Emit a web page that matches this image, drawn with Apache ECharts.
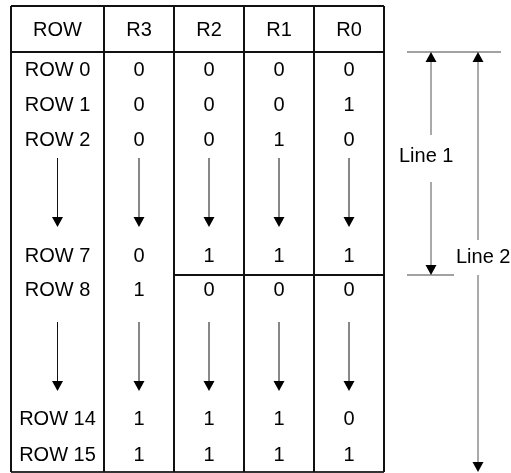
<!DOCTYPE html>
<html>
<head>
<meta charset="utf-8">
<script src="https://cdn.jsdelivr.net/npm/echarts@6/dist/echarts.min.js"></script>
<style>html,body{margin:0;padding:0;background:#fff}#c{width:511px;height:473px}</style>
</head>
<body>
<div id="c"></div>
<script>
// ---- data ----
const columns = ['ROW', 'R3', 'R2', 'R1', 'R0'];
const rowLabels = ['ROW 0', 'ROW 1', 'ROW 2', 'ROW 7', 'ROW 8', 'ROW 14', 'ROW 15'];
const bitsR3 = [0, 0, 0, 0, 1, 1, 1];
const bitsR2 = [0, 0, 0, 1, 0, 1, 1];
const bitsR1 = [0, 0, 1, 1, 0, 1, 1];
const bitsR0 = [0, 1, 0, 1, 0, 0, 1];
const spanLabels = ['Line 1', 'Line 2'];

// ---- layout (pixel units on hidden value axes) ----
const L = {
  colEdges: [11, 104, 174, 244, 314, 384],
  headerTop: 6, headerBottom: 52, tableBottom: 472,
  rowCenters: [70, 105, 140, 256, 290, 419, 455],
  headerCenter: 30,
  dividerY: 275, dividerFromCol: 2,
  ellipsis: [[158, 227], [322, 391]],
  spans: [
    { x: 431, top: 52, bottom: 275, gap: [135, 182], labelX: 399, labelY: 156, tick: [407, 454] },
    { x: 478, top: 52, bottom: 472, gap: [240, 275], labelX: 456, labelY: 257, tick: null }
  ],
  topTick: [407, 501]
};
const colCenters = L.colEdges.slice(0, -1).map((e, i) => (e + L.colEdges[i + 1]) / 2);
const bitCols = [bitsR3, bitsR2, bitsR1, bitsR0];

// text items
const texts = [];
columns.forEach((c, i) => texts.push([colCenters[i], L.headerCenter, c, 'center']));
rowLabels.forEach((r, j) => {
  texts.push([colCenters[0], L.rowCenters[j], r, 'center']);
  bitCols.forEach((col, k) => texts.push([colCenters[k + 1], L.rowCenters[j], String(col[j]), 'center']));
});
L.spans.forEach((s, i) => texts.push([s.labelX, s.labelY, spanLabels[i], 'left']));

// segments: [x1,y1,x2,y2,width,color]
const segs = [];
const E = L.colEdges;
const BL = '#111';
segs.push([E[0], L.headerTop, E[E.length - 1], L.headerTop, 2, BL]);
segs.push([E[0], L.headerBottom, E[E.length - 1], L.headerBottom, 2, BL]);
segs.push([E[0], L.tableBottom, E[E.length - 1], L.tableBottom, 2, '#333']);
E.forEach(x => segs.push([x, L.headerTop, x, L.tableBottom, 2, BL]));
segs.push([E[L.dividerFromCol], L.dividerY, E[E.length - 1], L.dividerY, 2, BL]);
// spans
segs.push([L.topTick[0], L.headerBottom, L.topTick[1], L.headerBottom, 1, '#444']);
L.spans.forEach(s => {
  segs.push([s.x, s.top + 9, s.x, s.gap[0], 1, '#555']);
  segs.push([s.x, s.gap[1], s.x, s.bottom - 9, 1, '#555']);
  if (s.tick) segs.push([s.tick[0], s.bottom, s.tick[1], s.bottom, 1, '#444']);
});
// ellipsis arrow shafts
const tris = []; // [x, tipY, dir]
L.ellipsis.forEach(([a, b]) => {
  colCenters.forEach(x => {
    segs.push([x, a, x, b - 9, 1, '#111']);
    tris.push([x, b, 1]);
  });
});
L.spans.forEach(s => { tris.push([s.x, s.top, -1]); tris.push([s.x, s.bottom, 1]); });

const FONT = '20px "Liberation Sans", Arial, sans-serif';

const chart = echarts.init(document.getElementById('c'), null, { renderer: 'canvas' });
chart.setOption({
  animation: false,
  backgroundColor: '#fff',
  grid: { left: 0, top: 0, right: 0, bottom: 0 },
  xAxis: { type: 'value', min: 0, max: 511, show: false },
  yAxis: { type: 'value', min: 0, max: 473, inverse: true, show: false },
  series: [
    {
      type: 'custom', coordinateSystem: 'cartesian2d', silent: true,
      data: segs,
      renderItem: (params, api) => {
        const p1 = api.coord([api.value(0), api.value(1)]);
        const p2 = api.coord([api.value(2), api.value(3)]);
        const d = segs[params.dataIndex];
        return { type: 'line', shape: { x1: p1[0], y1: p1[1], x2: p2[0], y2: p2[1] },
          style: { stroke: d[5], lineWidth: d[4] } };
      }
    },
    {
      type: 'custom', coordinateSystem: 'cartesian2d', silent: true,
      data: tris,
      renderItem: (params, api) => {
        const tip = api.coord([api.value(0), api.value(1)]);
        const dir = api.value(2);
        const h = 10, w = 5.5;
        return { type: 'polygon', shape: { points: [
          [tip[0], tip[1]], [tip[0] - w, tip[1] - dir * h], [tip[0] + w, tip[1] - dir * h]] },
          style: { fill: '#000' } };
      }
    },
    {
      type: 'custom', coordinateSystem: 'cartesian2d', silent: true,
      data: texts.map(t => [t[0], t[1]]),
      renderItem: (params, api) => {
        const p = api.coord([api.value(0), api.value(1)]);
        const t = texts[params.dataIndex];
        return { type: 'text', style: { text: t[2], x: p[0], y: p[1], font: FONT,
          fill: '#000', align: t[3], verticalAlign: 'middle' } };
      }
    }
  ]
});
</script>
</body>
</html>
